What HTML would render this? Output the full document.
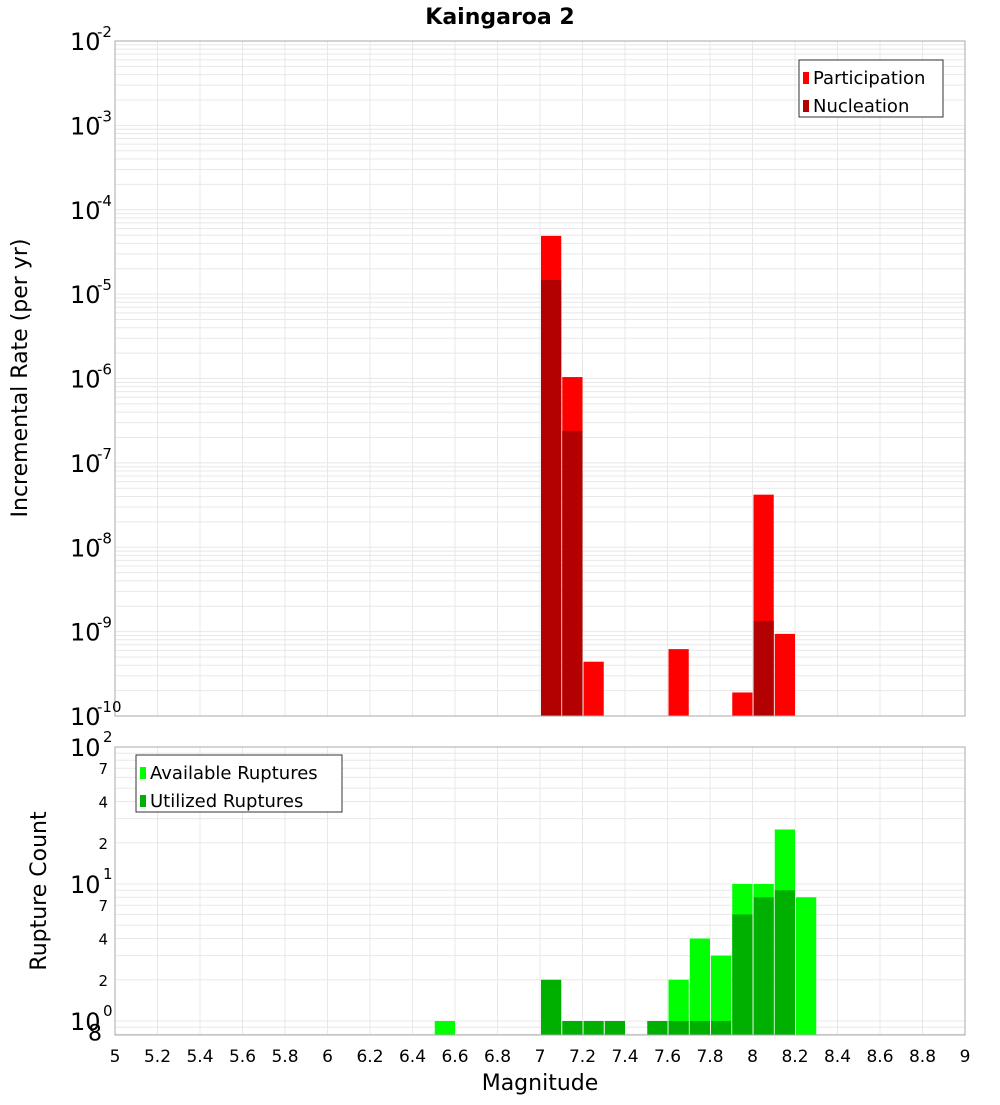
<!DOCTYPE html>
<html><head><meta charset="utf-8"><style>
body{margin:0;background:#fff;font-family:"Liberation Sans","DejaVu Sans",sans-serif}
svg text{font-family:"DejaVu Sans","Liberation Sans",sans-serif}
</style></head><body>
<svg id="c" width="1000" height="1100" xmlns="http://www.w3.org/2000/svg">
<text x="500" y="24" text-anchor="middle" font-size="22" font-weight="bold">Kaingaroa 2</text>
<g id="topg"></g><g id="botg"></g>
<text transform="translate(27,378) rotate(-90)" text-anchor="middle" font-size="22">Incremental Rate (per yr)</text>
<text transform="translate(46,891) rotate(-90)" text-anchor="middle" font-size="22">Rupture Count</text>
<text x="540" y="1090" text-anchor="middle" font-size="22">Magnitude</text>
</svg>
<script>
const rateMags=[7.0,7.1,7.2,7.6,7.9,8.0,8.1];
const partRates=[4.9e-5,1.04e-6,4.4e-10,6.2e-10,1.9e-10,4.2e-8,9.4e-10];
const nuclMags=[7.0,7.1,8.0];
const nuclRates=[1.47e-5,2.4e-7,1.34e-9];
const availMags=[6.5,7.6,7.7,7.8,7.9,8.0,8.1,8.2];
const availCounts=[1,2,4,3,10,10,25,8];
const usedMags=[7.0,7.1,7.2,7.3,7.5,7.6,7.7,7.8,7.9,8.0,8.1];
const usedCounts=[2,1,1,1,1,1,1,1,6,8,9];
const xTicks=[5,5.2,5.4,5.6,5.8,6,6.2,6.4,6.6,6.8,7,7.2,7.4,7.6,7.8,8,8.2,8.4,8.6,8.8,9];
const binW=0.1;
const NS='http://www.w3.org/2000/svg';
const L=115,R=965;
const X=m=>L+(m-5)/4*(R-L);
const T0=41,T1=716,Yt=v=>T0+(-2-Math.log10(v))*(T1-T0)/8;
const B0=747,B1=1035,DEC=137,Yb=v=>B0+(2-Math.log10(v))*DEC;
function mk(p,tag,a,txt){const e=document.createElementNS(NS,tag);for(const k in a)e.setAttribute(k,a[k]);if(txt!==undefined)e.textContent=txt;p.appendChild(e);return e;}
const gTop=document.getElementById('topg'),gBot=document.getElementById('botg');
for(let d=-10;d<-2;d++)for(let k=1;k<10;k++){const y=Yt(k*Math.pow(10,d));const l=mk(gTop,'line',{x1:L,x2:R,y1:y,y2:y,stroke:'#e8e8e8','stroke-width':1});

}
for(let d=-1;d<2;d++)for(let k=1;k<10;k++){const y=Yb(k*Math.pow(10,d));if(y<B0||y>B1)continue;const l=mk(gBot,'line',{x1:L,x2:R,y1:y,y2:y,stroke:'#e8e8e8','stroke-width':1});

}
xTicks.forEach(t=>{const x=X(t);[[gTop,T0,T1],[gBot,B0,B1]].forEach(([g,a,b])=>{const l=mk(g,'line',{x1:x,x2:x,y1:a,y2:b,stroke:'#e8e8e8'});

});
const tx=mk(gBot,'text',{x:x,y:1062,'text-anchor':'middle','font-size':17},String(t));

});
function bar(g,m,v,Y,base,fill,name){const x=X(m)+1,w=X(m+binW)-X(m)-1,y=Y(v);const r=mk(g,'rect',{x:x,y:y,width:w,height:base-y,fill:fill});

}
partRates.forEach((v,i)=>bar(gTop,rateMags[i],v,Yt,T1,'#ff0000','bar-participation'));
nuclRates.forEach((v,i)=>bar(gTop,nuclMags[i],v,Yt,T1,'#b30000','bar-nucleation'));
availCounts.forEach((v,i)=>bar(gBot,availMags[i],v,Yb,B1,'#00ff00','bar-available'));
usedCounts.forEach((v,i)=>bar(gBot,usedMags[i],v,Yb,B1,'#00b000','bar-utilized'));
mk(gTop,'rect',{x:L,y:T0,width:R-L,height:T1-T0,fill:'none',stroke:'#aaa'});
mk(gBot,'rect',{x:L,y:B0,width:R-L,height:B1-B0,fill:'none',stroke:'#aaa'});
for(let d=-10;d<=-2;d++){const y=Yt(Math.pow(10,d));const t=mk(gTop,'text',{x:70,y:y+9,'font-size':24},'10');


mk(gTop,'text',{x:97,y:y-4,'font-size':15},String(d));}
[[100,'2'],[10,'1'],[1,'0']].forEach(([v,e])=>{const y=Yb(v);const t=mk(gBot,'text',{x:70,y:y+9,'font-size':24},'10');


mk(gBot,'text',{x:103,y:y-5,'font-size':15},e);});
[[70,'7'],[40,'4'],[20,'2'],[7,'7'],[4,'4'],[2,'2'],[0.8,'8']].forEach(([v,s])=>{const y=Yb(v);const t=mk(gBot,'text',{x:v===0.8?102:108,y:y+6,'font-size':v===0.8?22:15,'text-anchor':'end'},s);

});
function legend(g,x,y,w,items){mk(g,'rect',{x:x,y:y,width:w,height:57,fill:'#fff',stroke:'#333'});items.forEach(([c,s],i)=>{mk(g,'rect',{x:x+4,y:y+12+i*28,width:6,height:12,fill:c});const t=mk(g,'text',{x:x+14,y:y+24+i*28,'font-size':18},s);

});}
legend(gTop,799,60,144,[['#ff0000','Participation'],['#b30000','Nucleation']]);
legend(gBot,136,755,206,[['#00ff00','Available Ruptures'],['#00b000','Utilized Ruptures']]);
</script>
</body></html>
